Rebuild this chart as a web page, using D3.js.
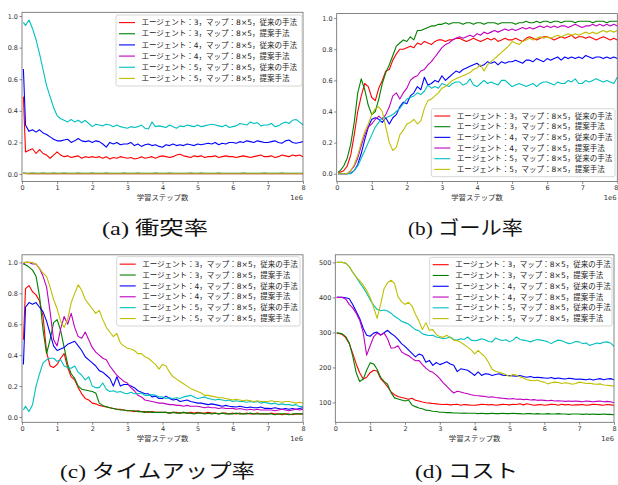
<!DOCTYPE html>
<html>
<head>
<meta charset="utf-8">
<script src="https://cdn.jsdelivr.net/npm/d3@7"></script>
<style>
  body { margin: 0; background: #fff; }
  svg { display: block; }
</style>
</head>
<body>
<svg width="618" height="485"></svg>
<script>
// training steps (x, in units of 1e6)
const steps = [
  0.04, 0.1, 0.2, 0.3, 0.4, 0.5, 0.6, 0.7, 0.8, 0.9,
  1.0, 1.1, 1.2, 1.3, 1.4, 1.5, 1.6, 1.7, 1.8, 1.9,
  2.0, 2.1, 2.2, 2.3, 2.4, 2.5, 2.6, 2.7, 2.8, 2.9,
  3.0, 3.1, 3.2, 3.3, 3.4, 3.5, 3.6, 3.7, 3.8, 3.9,
  4.0, 4.1, 4.2, 4.3, 4.4, 4.5, 4.6, 4.7, 4.8, 4.9,
  5.0, 5.1, 5.2, 5.3, 5.4, 5.5, 5.6, 5.7, 5.8, 5.9,
  6.0, 6.1, 6.2, 6.3, 6.4, 6.5, 6.6, 6.7, 6.8, 6.9,
  7.0, 7.1, 7.2, 7.3, 7.4, 7.5, 7.6, 7.7, 7.8, 7.9,
  8.0
]

const labels = [
  'エージェント：3，マップ：8×5，従来の手法',
  'エージェント：3，マップ：8×5，提案手法',
  'エージェント：4，マップ：8×5，従来の手法',
  'エージェント：4，マップ：8×5，提案手法',
  'エージェント：5，マップ：8×5，従来の手法',
  'エージェント：5，マップ：8×5，提案手法'
]
const colors = ['#ff0000', '#008000', '#0000ff', '#bf00bf', '#00bfbf', '#bfbf00']

const xTicks = [0, 1, 2, 3, 4, 5, 6, 7, 8]
const rateTicks = [0, 0.2, 0.4, 0.6, 0.8, 1.0]
const costTicks = [100, 200, 300, 400, 500]
const xLabel = '学習ステップ数'
const xOffset = '1e6'
const captions = ['(a) 衝突率', '(b) ゴール率', '(c) タイムアップ率', '(d) コスト']

// (a) collision rate
const aRed = [
  0.49, 0.14, 0.15, 0.16, 0.13, 0.155, 0.13, 0.12, 0.10, 0.12,
  0.14, 0.12, 0.11, 0.115, 0.105, 0.11, 0.115, 0.10, 0.11, 0.105,
  0.11, 0.105, 0.11, 0.10, 0.11, 0.095, 0.105, 0.10, 0.11, 0.105,
  0.10, 0.105, 0.095, 0.10, 0.11, 0.10, 0.105, 0.11, 0.10, 0.11,
  0.115, 0.11, 0.105, 0.11, 0.12, 0.125, 0.115, 0.11, 0.105, 0.115,
  0.11, 0.115, 0.105, 0.11, 0.11, 0.115, 0.105, 0.11, 0.115, 0.11,
  0.11, 0.105, 0.11, 0.115, 0.11, 0.105, 0.11, 0.115, 0.12, 0.11,
  0.11, 0.115, 0.105, 0.11, 0.12, 0.115, 0.11, 0.12, 0.115, 0.12,
  0.11
]
const aGreen = [
  0.008, 0.005, 0.005, 0.006, 0.005, 0.005, 0.006, 0.005, 0.005, 0.006,
  0.005, 0.005, 0.006, 0.005, 0.005, 0.005, 0.006, 0.005, 0.005, 0.005,
  0.006, 0.005, 0.005, 0.005, 0.006, 0.005, 0.005, 0.005, 0.005, 0.006,
  0.005, 0.005, 0.005, 0.006, 0.005, 0.005, 0.005, 0.005, 0.006, 0.005,
  0.005, 0.005, 0.006, 0.005, 0.005, 0.005, 0.005, 0.005, 0.006, 0.005,
  0.005, 0.006, 0.005, 0.005, 0.005, 0.005, 0.006, 0.005, 0.005, 0.005,
  0.005, 0.005, 0.005, 0.006, 0.005, 0.005, 0.005, 0.005, 0.005, 0.006,
  0.005, 0.005, 0.005, 0.005, 0.006, 0.005, 0.005, 0.005, 0.005, 0.005,
  0.005
]
const aBlue = [
  0.665, 0.31, 0.27, 0.28, 0.265, 0.28, 0.26, 0.25, 0.235, 0.22,
  0.21, 0.21, 0.215, 0.22, 0.20, 0.21, 0.225, 0.21, 0.205, 0.21,
  0.20, 0.21, 0.205, 0.19, 0.17, 0.20, 0.19, 0.20, 0.185, 0.19,
  0.19, 0.20, 0.18, 0.19, 0.175, 0.185, 0.19, 0.18, 0.185, 0.175,
  0.17, 0.185, 0.18, 0.19, 0.18, 0.185, 0.18, 0.19, 0.185, 0.18,
  0.19, 0.185, 0.19, 0.195, 0.19, 0.20, 0.185, 0.195, 0.19, 0.20,
  0.20, 0.195, 0.205, 0.20, 0.21, 0.205, 0.20, 0.21, 0.205, 0.20,
  0.20, 0.205, 0.21, 0.20, 0.195, 0.21, 0.215, 0.20, 0.195, 0.20,
  0.205
]
const aMagenta = [
  0.005, 0.003, 0.002, 0.002, 0.002, 0.002, 0.002, 0.002, 0.002, 0.002,
  0.002, 0.002, 0.002, 0.002, 0.002, 0.002, 0.002, 0.002, 0.002, 0.002,
  0.002, 0.002, 0.002, 0.002, 0.002, 0.002, 0.002, 0.002, 0.002, 0.002,
  0.002, 0.002, 0.002, 0.002, 0.002, 0.002, 0.002, 0.002, 0.002, 0.002,
  0.002, 0.002, 0.002, 0.002, 0.002, 0.002, 0.002, 0.002, 0.002, 0.002,
  0.002, 0.002, 0.002, 0.002, 0.002, 0.002, 0.002, 0.002, 0.002, 0.002,
  0.002, 0.002, 0.002, 0.002, 0.002, 0.002, 0.002, 0.002, 0.002, 0.002,
  0.002, 0.002, 0.002, 0.002, 0.002, 0.002, 0.002, 0.002, 0.002, 0.002,
  0.002
]
const aCyan = [
  0.96, 0.94, 0.975, 0.92, 0.85, 0.76, 0.66, 0.56, 0.49, 0.42,
  0.37, 0.35, 0.34, 0.33, 0.345, 0.33, 0.34, 0.325, 0.34, 0.32,
  0.30, 0.315, 0.31, 0.305, 0.315, 0.31, 0.30, 0.31, 0.30, 0.295,
  0.29, 0.30, 0.295, 0.30, 0.31, 0.29, 0.285, 0.33, 0.30, 0.305,
  0.30, 0.295, 0.31, 0.30, 0.29, 0.305, 0.30, 0.31, 0.305, 0.30,
  0.31, 0.30, 0.305, 0.31, 0.315, 0.31, 0.305, 0.30, 0.31, 0.295,
  0.30, 0.305, 0.32, 0.315, 0.31, 0.33, 0.32, 0.325, 0.305, 0.31,
  0.31, 0.32, 0.30, 0.305, 0.32, 0.33, 0.32, 0.34, 0.345, 0.33,
  0.31
]
const aYellow = [
  0.004, 0.002, 0.002, 0.002, 0.002, 0.002, 0.002, 0.002, 0.002, 0.002,
  0.002, 0.002, 0.002, 0.002, 0.002, 0.002, 0.002, 0.002, 0.002, 0.002,
  0.002, 0.002, 0.002, 0.002, 0.002, 0.002, 0.002, 0.002, 0.002, 0.002,
  0.002, 0.002, 0.002, 0.002, 0.002, 0.002, 0.002, 0.002, 0.002, 0.002,
  0.002, 0.002, 0.002, 0.002, 0.002, 0.002, 0.002, 0.002, 0.002, 0.002,
  0.002, 0.002, 0.002, 0.002, 0.002, 0.002, 0.002, 0.002, 0.002, 0.002,
  0.002, 0.002, 0.002, 0.002, 0.002, 0.002, 0.002, 0.002, 0.002, 0.002,
  0.002, 0.002, 0.002, 0.002, 0.002, 0.002, 0.002, 0.002, 0.002, 0.002,
  0.002
]

// (b) goal rate
const bRed = [
  0.01, 0.01, 0.02, 0.05, 0.12, 0.25, 0.40, 0.50, 0.58, 0.56,
  0.49, 0.47, 0.55, 0.60, 0.66, 0.67, 0.73, 0.77, 0.80, 0.80,
  0.81, 0.82, 0.81, 0.84, 0.83, 0.85, 0.84, 0.83, 0.85, 0.86,
  0.86, 0.85, 0.86, 0.86, 0.87, 0.87, 0.86, 0.85, 0.86, 0.87,
  0.86, 0.85, 0.86, 0.87, 0.86, 0.87, 0.85, 0.86, 0.87, 0.86,
  0.86, 0.87, 0.86, 0.85, 0.87, 0.88, 0.87, 0.86, 0.87, 0.88,
  0.88, 0.87, 0.86, 0.87, 0.88, 0.87, 0.88, 0.89, 0.87, 0.88,
  0.88, 0.87, 0.88, 0.87, 0.86, 0.87, 0.88, 0.87, 0.86, 0.87,
  0.86
]
const bGreen = [
  0.01, 0.02, 0.05, 0.10, 0.19, 0.33, 0.52, 0.61, 0.54, 0.44,
  0.38, 0.40, 0.48, 0.58, 0.65, 0.70, 0.76, 0.82, 0.84, 0.86,
  0.85, 0.88, 0.86, 0.92, 0.92, 0.93, 0.94, 0.95, 0.95, 0.96,
  0.96, 0.97, 0.96, 0.97, 0.97, 0.97, 0.96, 0.97, 0.97, 0.96,
  0.97, 0.97, 0.96, 0.97, 0.97, 0.97, 0.96, 0.97, 0.97, 0.97,
  0.97, 0.96, 0.97, 0.97, 0.98, 0.97, 0.97, 0.98, 0.97, 0.98,
  0.98, 0.97, 0.98, 0.98, 0.97, 0.98, 0.98, 0.98, 0.97, 0.98,
  0.98, 0.98, 0.98, 0.97, 0.98, 0.98, 0.98, 0.97, 0.98, 0.98,
  0.98
]
const bBlue = [
  0.0, 0.0, 0.0, 0.0, 0.005, 0.02, 0.06, 0.13, 0.22, 0.30,
  0.35, 0.36, 0.35, 0.33, 0.36, 0.32, 0.36, 0.38, 0.43, 0.46,
  0.45, 0.50, 0.52, 0.56, 0.54, 0.62, 0.57, 0.58, 0.60, 0.59,
  0.63, 0.60, 0.62, 0.64, 0.66, 0.65, 0.67, 0.68, 0.69, 0.70,
  0.71, 0.69, 0.70, 0.72, 0.71, 0.72, 0.70, 0.72, 0.71, 0.72,
  0.72, 0.73, 0.72, 0.71, 0.73, 0.73, 0.72, 0.74, 0.73, 0.72,
  0.74, 0.73, 0.74, 0.75, 0.73, 0.75, 0.74, 0.75, 0.74, 0.75,
  0.74, 0.76, 0.75, 0.74, 0.75, 0.75, 0.74, 0.75, 0.74, 0.75,
  0.74
]
const bMagenta = [
  0.0, 0.0, 0.0, 0.0, 0.02, 0.05, 0.10, 0.18, 0.25, 0.30,
  0.32, 0.35, 0.37, 0.35, 0.38, 0.43, 0.50, 0.52, 0.48, 0.52,
  0.55, 0.60, 0.62, 0.63, 0.66, 0.67, 0.70, 0.72, 0.75, 0.78,
  0.81, 0.83, 0.84, 0.86, 0.87, 0.88, 0.87, 0.88, 0.89, 0.88,
  0.90, 0.89, 0.91, 0.90, 0.91, 0.92, 0.91, 0.92, 0.93, 0.92,
  0.93, 0.92, 0.93, 0.94, 0.93, 0.94, 0.93, 0.94, 0.95, 0.94,
  0.95, 0.94, 0.95, 0.94, 0.95, 0.95, 0.94, 0.95, 0.96, 0.95,
  0.94, 0.95, 0.95, 0.96, 0.95, 0.96, 0.95, 0.96, 0.95, 0.96,
  0.95
]
const bCyan = [
  0.0, 0.0, 0.0, 0.0, 0.0, 0.02, 0.05, 0.10, 0.15, 0.20,
  0.25, 0.30, 0.33, 0.36, 0.36, 0.37, 0.38, 0.40, 0.42, 0.45,
  0.48, 0.49, 0.50, 0.52, 0.51, 0.53, 0.57, 0.55, 0.56, 0.55,
  0.58, 0.57, 0.56, 0.58, 0.59, 0.59, 0.57, 0.58, 0.61, 0.57,
  0.56, 0.58, 0.60, 0.58, 0.59, 0.58, 0.57, 0.60, 0.60, 0.58,
  0.56, 0.57, 0.58, 0.57, 0.56, 0.57, 0.58, 0.56, 0.58, 0.59,
  0.59, 0.58, 0.57, 0.59, 0.58, 0.58, 0.60, 0.59, 0.61, 0.58,
  0.58, 0.60, 0.59, 0.60, 0.61, 0.60, 0.59, 0.60, 0.59, 0.58,
  0.62
]
const bYellow = [
  0.0, 0.0, 0.0, 0.0, 0.02, 0.06, 0.12, 0.20, 0.27, 0.32,
  0.38, 0.42, 0.43, 0.40, 0.30, 0.20, 0.15, 0.17, 0.25, 0.28,
  0.32, 0.33, 0.35, 0.32, 0.34, 0.42, 0.47, 0.48, 0.50, 0.52,
  0.55, 0.56, 0.58, 0.60, 0.61, 0.62, 0.63, 0.64, 0.65, 0.67,
  0.68, 0.70, 0.66, 0.70, 0.72, 0.74, 0.76, 0.78, 0.80, 0.82,
  0.85, 0.84, 0.83, 0.85, 0.86, 0.87, 0.86, 0.87, 0.88, 0.87,
  0.88, 0.87, 0.88, 0.89, 0.88, 0.89, 0.90, 0.89, 0.90, 0.89,
  0.90, 0.91, 0.90, 0.91, 0.90, 0.91, 0.92, 0.91, 0.92, 0.91,
  0.92
]

// (c) time-up rate
const cRed = [
  0.50, 0.83, 0.85, 0.81, 0.79, 0.75, 0.65, 0.42, 0.33, 0.32,
  0.34, 0.38, 0.41, 0.32, 0.26, 0.24, 0.19, 0.15, 0.12, 0.11,
  0.09, 0.085, 0.075, 0.07, 0.065, 0.06, 0.055, 0.05, 0.05, 0.045,
  0.04, 0.04, 0.035, 0.04, 0.035, 0.035, 0.03, 0.035, 0.03, 0.03,
  0.03, 0.03, 0.025, 0.03, 0.03, 0.025, 0.03, 0.025, 0.03, 0.025,
  0.03, 0.025, 0.025, 0.03, 0.025, 0.025, 0.02, 0.025, 0.025, 0.02,
  0.025, 0.02, 0.025, 0.02, 0.025, 0.02, 0.02, 0.025, 0.02, 0.02,
  0.02, 0.025, 0.02, 0.02, 0.015, 0.02, 0.02, 0.015, 0.02, 0.02,
  0.02
]
const cGreen = [
  0.99, 0.985, 0.97, 0.95, 0.91, 0.78, 0.56, 0.41, 0.50, 0.61,
  0.63, 0.56, 0.45, 0.34, 0.28, 0.25, 0.20, 0.18, 0.175, 0.17,
  0.165, 0.155, 0.09, 0.075, 0.067, 0.06, 0.055, 0.05, 0.045, 0.045,
  0.04, 0.04, 0.04, 0.035, 0.035, 0.03, 0.035, 0.03, 0.03, 0.03,
  0.03, 0.03, 0.025, 0.03, 0.025, 0.025, 0.03, 0.025, 0.025, 0.02,
  0.025, 0.025, 0.02, 0.025, 0.02, 0.025, 0.02, 0.025, 0.02, 0.02,
  0.02, 0.025, 0.02, 0.02, 0.02, 0.025, 0.02, 0.02, 0.02, 0.02,
  0.02, 0.02, 0.015, 0.02, 0.02, 0.02, 0.015, 0.02, 0.02, 0.02,
  0.02
]
const cBlue = [
  0.34, 0.71, 0.74, 0.73, 0.74, 0.71, 0.68, 0.62, 0.54, 0.46,
  0.43, 0.44, 0.45, 0.47, 0.48, 0.49, 0.46, 0.43, 0.39, 0.37,
  0.35, 0.33, 0.30, 0.29, 0.27, 0.25, 0.20, 0.26, 0.20, 0.21,
  0.21, 0.20, 0.19, 0.17, 0.16, 0.15, 0.15, 0.13, 0.135, 0.12,
  0.12, 0.135, 0.12, 0.11, 0.115, 0.10, 0.105, 0.11, 0.10, 0.095,
  0.09, 0.09, 0.085, 0.08, 0.085, 0.08, 0.075, 0.07, 0.075, 0.07,
  0.067, 0.065, 0.07, 0.065, 0.06, 0.065, 0.06, 0.06, 0.065, 0.056,
  0.056, 0.055, 0.06, 0.055, 0.05, 0.055, 0.05, 0.055, 0.05, 0.055,
  0.06
]
const cMagenta = [
  0.99, 1.0, 1.0, 0.99, 0.99, 0.96, 0.91, 0.84, 0.68, 0.50,
  0.46, 0.57, 0.65, 0.60, 0.67, 0.58, 0.52, 0.51, 0.55, 0.50,
  0.45, 0.42, 0.40, 0.38, 0.37, 0.33, 0.30, 0.27, 0.25, 0.23,
  0.22, 0.19, 0.17, 0.14, 0.13, 0.11, 0.105, 0.10, 0.095, 0.09,
  0.09, 0.085, 0.08, 0.08, 0.075, 0.075, 0.07, 0.075, 0.07, 0.07,
  0.07, 0.065, 0.06, 0.065, 0.06, 0.06, 0.055, 0.06, 0.055, 0.055,
  0.056, 0.05, 0.055, 0.05, 0.045, 0.05, 0.045, 0.05, 0.045, 0.045,
  0.045, 0.045, 0.04, 0.045, 0.05, 0.045, 0.04, 0.045, 0.05, 0.045,
  0.05
]
const cCyan = [
  0.045, 0.07, 0.035, 0.08, 0.20, 0.28, 0.35, 0.37, 0.38, 0.38,
  0.36, 0.37, 0.33, 0.32, 0.315, 0.33, 0.29, 0.27, 0.24, 0.26,
  0.20, 0.19, 0.19, 0.22, 0.18, 0.165, 0.17, 0.16, 0.165, 0.155,
  0.15, 0.16, 0.15, 0.15, 0.155, 0.14, 0.14, 0.145, 0.14, 0.13,
  0.13, 0.12, 0.125, 0.12, 0.125, 0.12, 0.13, 0.135, 0.14, 0.13,
  0.12, 0.125, 0.13, 0.12, 0.115, 0.11, 0.115, 0.11, 0.105, 0.11,
  0.10, 0.105, 0.10, 0.10, 0.095, 0.10, 0.095, 0.10, 0.09, 0.095,
  0.09, 0.085, 0.09, 0.08, 0.085, 0.08, 0.08, 0.075, 0.08, 0.067,
  0.07
]
const cYellow = [
  1.0, 1.0, 1.0, 1.0, 0.99, 0.96, 0.93, 0.91, 0.84, 0.76,
  0.70, 0.62, 0.58, 0.63, 0.74, 0.80, 0.855, 0.82, 0.76, 0.73,
  0.70, 0.67, 0.69, 0.63, 0.58, 0.55, 0.52, 0.54, 0.48, 0.46,
  0.445, 0.44, 0.43, 0.41, 0.41, 0.39, 0.38, 0.36, 0.34, 0.31,
  0.34, 0.33, 0.29, 0.26, 0.245, 0.23, 0.215, 0.20, 0.185, 0.175,
  0.165, 0.155, 0.14, 0.14, 0.135, 0.13, 0.125, 0.125, 0.12, 0.115,
  0.11, 0.115, 0.11, 0.105, 0.11, 0.105, 0.10, 0.105, 0.10, 0.10,
  0.10, 0.105, 0.10, 0.10, 0.095, 0.10, 0.10, 0.095, 0.09, 0.095,
  0.09
]

// (d) cost
const dRed = [
  298, 297, 294, 285, 268, 240, 210, 185, 167, 172,
  185, 192, 190, 168, 157, 145, 130, 122, 117, 114,
  112, 109, 112, 106, 104, 101, 99, 98, 97, 96,
  95, 94, 95, 93, 94, 95, 92, 94, 93, 92,
  92, 93, 95, 94, 93, 94, 92, 93, 95, 94,
  93, 95, 94, 96, 93, 96, 94, 92, 93, 94,
  92, 93, 95, 94, 92, 95, 93, 94, 92, 93,
  93, 94, 92, 93, 95, 94, 93, 92, 94, 93,
  92
]
const dGreen = [
  299, 298, 296, 288, 270, 232, 185, 160, 166, 192,
  213, 210, 195, 172, 160, 152, 128, 113, 110, 107,
  104, 107, 93, 88, 84, 82, 78, 77, 75, 74,
  72, 72, 71, 71, 70, 70, 69, 70, 69, 69,
  69, 68, 69, 68, 68, 69, 68, 68, 69, 68,
  68, 69, 68, 68, 67, 68, 68, 67, 68, 67,
  67, 68, 67, 67, 68, 67, 67, 66, 67, 67,
  67, 66, 67, 66, 67, 66, 66, 67, 66, 66,
  65
]
const dBlue = [
  400, 400, 400, 399, 396, 380, 360, 340, 312, 292,
  289, 298, 301, 293, 299, 306, 297, 290, 280, 268,
  260, 250, 240, 230, 238, 235, 215, 220, 206, 214,
  208, 212, 216, 210, 206, 188, 196, 194, 192, 185,
  177, 187, 177, 182, 181, 177, 180, 182, 178, 177,
  177, 176, 175, 177, 174, 172, 174, 171, 172, 171,
  170, 169, 171, 168, 170, 168, 167, 169, 168, 166,
  167, 166, 165, 167, 164, 166, 168, 165, 167, 168,
  165
]
const dMagenta = [
  400, 400, 400, 395, 380, 370, 355, 335, 300, 235,
  262, 287, 298, 292, 298, 282, 255, 256, 262, 245,
  238, 234, 226, 219, 220, 208, 198, 190, 186, 178,
  168, 156, 146, 136, 127, 132, 130, 127, 125, 122,
  120, 119, 118, 117, 115, 116, 114, 113, 112, 111,
  110, 111, 109, 110, 108, 109, 107, 108, 106, 107,
  106, 105, 106, 104, 105, 104, 103, 104, 103, 104,
  103, 102, 104, 103, 102, 103, 104, 102, 103, 102,
  99
]
const dCyan = [
  500, 500, 500, 498, 488, 472, 458, 442, 428, 412,
  393, 378, 366, 362, 364, 361, 355, 346, 340, 332,
  328, 324, 316, 308, 305, 296, 293, 291, 292, 287,
  285, 282, 284, 287, 280, 278, 282, 280, 287, 278,
  276, 278, 282, 279, 274, 273, 284, 280, 277, 279,
  273, 278, 287, 280, 278, 276, 273, 277, 280, 278,
  276, 273, 268, 274, 278, 276, 272, 268, 270, 274,
  273, 268, 270, 263, 266, 270, 268, 272, 273, 270,
  260
]
const dYellow = [
  500, 500, 500, 498, 488, 472, 458, 448, 435, 420,
  400, 372, 340, 380, 425, 442, 449, 440, 402, 388,
  380, 386, 376, 352, 333, 308, 328, 306, 308, 294,
  288, 286, 292, 285, 278, 276, 272, 265, 258, 250,
  239, 249, 239, 230, 214, 195, 189, 186, 183, 179,
  174, 180, 178, 173, 170, 165, 163, 162, 164, 160,
  158, 153, 156, 158, 157, 154, 156, 155, 152, 154,
  158, 156, 154, 155, 153, 152, 153, 150, 149, 148,
  146
]

const panels = [
  { series: [aRed, aGreen, aBlue, aMagenta, aCyan, aYellow], yTicks: rateTicks, fmt: d3.format('.1f'),
    left: 22, right: 303, top: 12.3, bottom: 181.4, offsetX: 303,
    legend: { x: 116, y: 15, w: 186, h: 71 },
    caption: { x: 102, y: 235, len: 106 } },
  { series: [bRed, bGreen, bBlue, bMagenta, bCyan, bYellow], yTicks: rateTicks, fmt: d3.format('.1f'),
    left: 336.7, right: 617.3, top: 13.6, bottom: 181.4, offsetX: 616.5,
    legend: { x: 431.3, y: 108.7, w: 183.7, h: 68 },
    caption: { x: 408, y: 235, len: 115 } },
  { series: [cRed, cGreen, cBlue, cMagenta, cCyan, cYellow], yTicks: rateTicks, fmt: d3.format('.1f'),
    left: 22, right: 303, top: 254.8, bottom: 422.3, offsetX: 303,
    legend: { x: 116.7, y: 256.7, w: 183.3, h: 69.3 },
    caption: { x: 60, y: 478, len: 195 } },
  { series: [dRed, dGreen, dBlue, dMagenta, dCyan, dYellow], yTicks: costTicks, fmt: d3.format('d'),
    left: 335.3, right: 614, top: 254.8, bottom: 422.3, offsetX: 614,
    legend: { x: 429.7, y: 257.3, w: 182.3, h: 68.7 },
    caption: { x: 415, y: 478, len: 103 } }
]

const svg = d3.select('svg')
const tickFont = '"DejaVu Sans", sans-serif'
const jpFont = '"DejaVu Sans", "Noto Sans CJK JP", sans-serif'

panels.forEach((p, k) => {
  const x = d3.scaleLinear().domain([0, 8]).range([p.left, p.right])
  const [lo, hi] = d3.extent(p.series.flat())
  const pad = (hi - lo) * 0.05
  const y = d3.scaleLinear().domain([lo - pad, hi + pad]).range([p.bottom, p.top])

  const g = svg.append('g')

  const line = d3.line()
    .x((d, i) => x(steps[i]))
    .y(d => y(d))

  g.selectAll('path.series')
    .data(p.series)
    .enter()
    .append('path')
    .attr('class', 'series')
    .attr('d', line)
    .attr('fill', 'none')
    .attr('stroke', (d, i) => colors[i])
    .attr('stroke-width', 1.1)
    .attr('stroke-linejoin', 'round')

  const xAxis = g.append('g')
    .attr('transform', `translate(0, ${p.bottom})`)
    .call(d3.axisBottom(x).tickValues(xTicks).tickFormat(d3.format('d')).tickSize(2.5).tickPadding(1.5))
  const yAxis = g.append('g')
    .attr('transform', `translate(${p.left}, 0)`)
    .call(d3.axisLeft(y).tickValues(p.yTicks).tickFormat(p.fmt).tickSize(2.5).tickPadding(1.5))

  ;[xAxis, yAxis].forEach(a => {
    a.select('.domain').remove()
    a.selectAll('line').attr('stroke', '#555').attr('stroke-width', 0.7)
    a.selectAll('text').attr('fill', '#333').style('font-family', tickFont).style('font-size', '6.5px')
  })

  // keep the last x tick label inside the page when the axis touches the edge
  if (p.right > 615) {
    xAxis.selectAll('.tick')
      .filter(d => d === 8)
      .select('text')
      .attr('text-anchor', 'end')
      .attr('x', 0.6)
  }

  g.append('rect')
    .attr('x', p.left)
    .attr('y', p.top)
    .attr('width', p.right - p.left)
    .attr('height', p.bottom - p.top)
    .attr('fill', 'none')
    .attr('stroke', '#666')
    .attr('stroke-width', 0.8)

  g.append('text')
    .text(xLabel)
    .attr('x', (p.left + p.right) / 2)
    .attr('y', p.bottom + 18.5)
    .attr('text-anchor', 'middle')
    .style('font-family', jpFont)
    .style('font-size', '7.4px')
    .attr('fill', '#333')

  g.append('text')
    .text(xOffset)
    .attr('x', p.offsetX)
    .attr('y', p.bottom + 18.5)
    .attr('text-anchor', 'end')
    .style('font-family', tickFont)
    .style('font-size', '6.8px')
    .attr('fill', '#333')

  // legend
  const L = p.legend
  const lg = g.append('g')
  lg.append('rect')
    .attr('x', L.x)
    .attr('y', L.y)
    .attr('width', L.w)
    .attr('height', L.h)
    .attr('rx', 2)
    .attr('fill', '#fff')
    .attr('fill-opacity', 0.8)
    .attr('stroke', '#ccc')
    .attr('stroke-width', 0.8)

  const rowH = (L.h - 4) / 6
  const rows = lg.selectAll('g.row')
    .data(labels)
    .enter()
    .append('g')
    .attr('class', 'row')
    .attr('transform', (d, i) => `translate(${L.x}, ${L.y + 2 + rowH * (i + 0.5)})`)
  rows.append('line')
    .attr('x1', 3)
    .attr('x2', 19)
    .attr('stroke', (d, i) => colors[i])
    .attr('stroke-width', 1.1)
  rows.append('text')
    .text(d => d)
    .attr('x', 25.5)
    .attr('dy', '0.35em')
    .style('font-family', jpFont)
    .style('font-size', '7.5px')
    .attr('fill', '#222')

  const C = p.caption
  svg.append('text')
    .text(captions[k])
    .attr('x', C.x)
    .attr('y', C.y)
    .attr('textLength', C.len)
    .attr('lengthAdjust', 'spacingAndGlyphs')
    .style('font-family', '"Liberation Serif", "Noto Sans CJK JP", serif')
    .style('font-size', '19px')
    .attr('fill', '#111')
})
</script>
</body>
</html>
